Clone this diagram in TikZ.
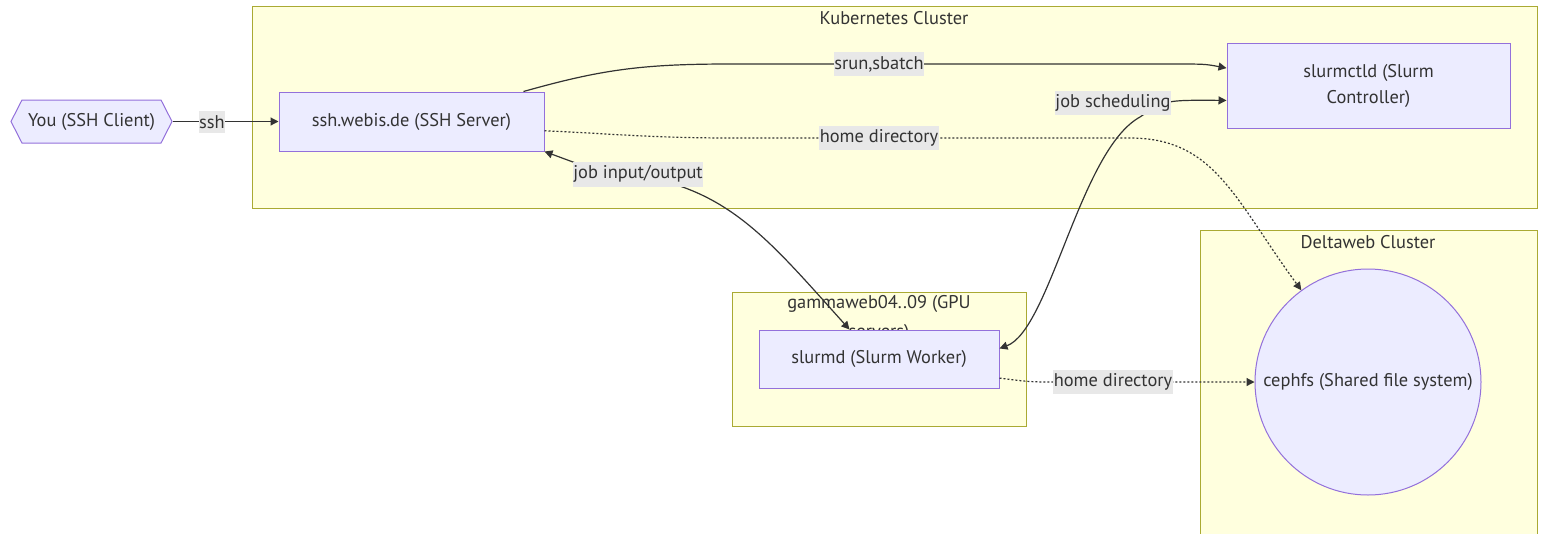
\documentclass[tikz,border=0pt]{standalone}
\usepackage{fontspec}
\setmainfont{PT Sans}
\usetikzlibrary{arrows.meta,shapes.symbols}
\definecolor{ink}{HTML}{333333}
\definecolor{nodefill}{HTML}{ECECFF}
\definecolor{nodeline}{HTML}{9370DB}
\definecolor{clusterfill}{HTML}{FFFFDE}
\definecolor{clusterline}{HTML}{AAAA33}
\definecolor{labfill}{HTML}{E8E8E8}
\tikzset{
  cluster/.style={fill=clusterfill, draw=clusterline, line width=0.75pt},
  ctitle/.style={text=ink, font=\fontsize{13.8}{22}\selectfont, align=center, inner sep=0pt},
  box/.style={fill=nodefill, draw=nodeline, line width=0.75pt, text=ink, font=\fontsize{13.8}{19.5}\selectfont, align=center},
  edge/.style={draw=ink, line width=0.9pt},
  tip/.style={-{Triangle[length=6pt,width=6pt]}},
  both/.style={{Triangle[length=6pt,width=6pt]}-{Triangle[length=6pt,width=6pt]}},
  dots/.style={dash pattern=on 1.5pt off 1.5pt},
  elab/.style={fill=labfill, text=ink, font=\fontsize{13.8}{15}\selectfont, inner xsep=0.5pt, inner ysep=3pt},
}
\begin{document}
\begin{tikzpicture}[x=0.75pt, y=-0.75pt]
\useasboundingbox (0,0) rectangle (1543,533);
\draw[cluster] (252,6) rectangle (1537,208);
\draw[cluster] (1200,230) rectangle (1537,560);
\draw[cluster] (732,292) rectangle (1026,426);
\node[ctitle] (kube) at (894,18) {Kubernetes Cluster};
\node[ctitle] (delta) at (1368,242) {Deltaweb Cluster};
\node[ctitle] (gamma) at (879,318.5) {gammaweb04..09 (GPU\\servers)};

\node[box, shape=signal, signal to=west and east, signal pointer angle=126,
  minimum width=120.75pt, minimum height=32.25pt, inner sep=0pt] (you) at (91.5,121.5) {You (SSH Client)};
\node[box, minimum width=198.75pt, minimum height=44.25pt] (ssh) at (411.5,121.5) {ssh.webis.de (SSH Server)};
\node[box, minimum width=212.25pt, minimum height=63.75pt] (ctld) at (1368.5,85.5) {slurmctld (Slurm\\Controller)};
\node[box, minimum width=180pt, minimum height=43.5pt] (slurmd) at (879,359) {slurmd (Slurm Worker)};
\node[box, shape=circle, minimum size=169.5pt, inner sep=0pt] (ceph) at (1368,382) {cephfs (Shared file system)};

\draw[edge, tip] (you.east) -- (ssh.west);
\draw[edge, tip] (ssh.15) .. controls (600,70) and (640,64) .. (730,64) -- (1170,64)
  .. controls (1205,64) .. (ctld.173);
\draw[edge, tip, dots] (ssh.-4) .. controls (600,133) and (650,138) .. (730,138) -- (1130,138)
  .. controls (1215,138) and (1235,200) .. (ceph.126);
\draw[edge, both] (ssh.south east) -- (600,172) .. controls (720,178) and (760,230) .. (slurmd.135);
\draw[edge, both] (slurmd.5) .. controls (1050,330) and (1080,150) .. (1140,117)
  .. controls (1165,100) .. (ctld.186);
\draw[edge, tip, dots] (slurmd.-9) .. controls (1030,382) .. (1060,382) -- (ceph.west);

\node[elab] (lssh) at (212,122) {ssh};
\node[elab] (lsrun) at (879,64) {srun,sbatch};
\node[elab] (lsched) at (1113,103) {job scheduling};
\node[elab] (lhome) at (879,138) {home directory};
\node[elab] (lio) at (638,174) {job input/output};
\node[elab] (lhome2) at (1113,382) {home directory};
\end{tikzpicture}
\end{document}
